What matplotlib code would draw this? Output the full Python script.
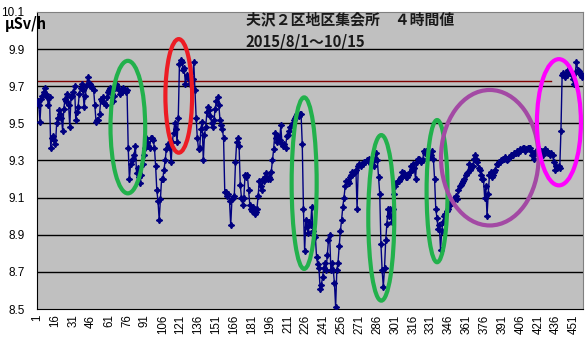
import matplotlib
matplotlib.use("Agg")
import matplotlib.pyplot as plt
from matplotlib.patches import Ellipse

# 4-hour dose-rate readings (uSv/h), 2015/8/1 - 10/15
dose = [
    9.62, 9.60, 9.51, 9.63, 9.65, 9.67, 9.69, 9.66, 9.64, 9.60,
    9.64, 9.37, 9.42, 9.43, 9.41, 9.39, 9.50, 9.53, 9.57, 9.55,
    9.53, 9.46, 9.58, 9.63, 9.62, 9.66, 9.60, 9.48, 9.64, 9.65,
    9.67, 9.70, 9.52, 9.56, 9.59, 9.66, 9.69, 9.71, 9.68, 9.59,
    9.65, 9.70, 9.75, 9.72, 9.71, 9.70, 9.69, 9.68, 9.60, 9.51,
    9.52, 9.52, 9.55, 9.63, 9.62, 9.64, 9.61, 9.60, 9.64, 9.67,
    9.68, 9.69, 9.66, 9.62, 9.65, 9.69, 9.71, 9.70, 9.68, 9.66,
    9.68, 9.67, 9.69, 9.68, 9.67, 9.68, 9.37, 9.20, 9.28, 9.30,
    9.31, 9.33, 9.38, 9.23, 9.26, 9.21, 9.18, 9.22, 9.28, 9.33,
    9.37, 9.42, 9.40, 9.38, 9.37, 9.42, 9.42, 9.41, 9.37, 9.27,
    9.14, 9.08, 8.98, 9.09, 9.20, 9.20, 9.25, 9.30, 9.36, 9.39,
    9.38, 9.37, 9.29, 9.40, 9.45, 9.50, 9.47, 9.40, 9.53, 9.82,
    9.84, 9.83, 9.79, 9.80, 9.71, 9.76, 9.75, 9.74, 9.71, 9.72,
    9.74, 9.83, 9.68, 9.53, 9.42, 9.36, 9.37, 9.47, 9.51, 9.30,
    9.44, 9.48, 9.56, 9.59, 9.57, 9.54, 9.50, 9.48, 9.52, 9.58,
    9.62, 9.64, 9.60, 9.52, 9.49, 9.47, 9.42, 9.13, 9.13, 9.11,
    9.12, 9.08, 8.95, 9.09, 9.10, 9.11, 9.29, 9.40, 9.42, 9.38,
    9.17, 9.10, 9.06, 9.10, 9.22, 9.21, 9.22, 9.14, 9.06, 9.04,
    9.03, 9.05, 9.01, 9.02, 9.04, 9.11, 9.19, 9.16, 9.14, 9.20,
    9.19, 9.21, 9.23, 9.20, 9.21, 9.20, 9.24, 9.30, 9.36, 9.45,
    9.42, 9.40, 9.43, 9.41, 9.49, 9.39, 9.38, 9.39, 9.37, 9.43,
    9.44, 9.46, 9.48, 9.49, 9.50, 9.52, 9.53, 9.54, 9.55, 9.54,
    9.55, 9.55, 9.39, 9.04, 8.81, 8.98, 8.94, 8.91, 8.97, 8.95,
    9.05, 8.92, 8.90, 8.89, 8.78, 8.74, 8.72, 8.61, 8.63, 8.67,
    8.72, 8.75, 8.71, 8.79, 8.87, 8.90, 8.71, 8.75, 8.71, 8.64,
    8.51, 8.71, 8.75, 8.84, 8.92, 8.98, 9.05, 9.10, 9.16, 9.19,
    9.19, 9.18, 9.21, 9.22, 9.24, 9.23, 9.24, 9.25, 9.04, 9.27,
    9.28, 9.27, 9.28, 9.28, 9.29, 9.29, 9.30, 9.30, 9.31, 9.29,
    9.28, 9.30, 9.27, 9.31, 9.34, 9.30, 9.21, 9.12, 8.85, 8.71,
    8.62, 8.72, 8.87, 8.96, 9.04, 9.00, 9.04, 8.97, 9.04, 9.12,
    9.16, 9.18, 9.19, 9.19, 9.20, 9.21, 9.24, 9.23, 9.22, 9.21,
    9.21, 9.22, 9.24, 9.27, 9.25, 9.28, 9.26, 9.20, 9.29, 9.31,
    9.31, 9.30, 9.29, 9.30, 9.35, 9.34, 9.35, 9.31, 9.32, 9.33,
    9.33, 9.35, 9.31, 9.20, 9.04, 8.99, 8.93, 8.95, 8.82, 8.92,
    8.97, 9.00, 9.01, 9.03, 9.04, 9.06, 9.06, 9.07, 9.08, 9.09,
    9.10, 9.11, 9.09, 9.14, 9.16, 9.17, 9.18, 9.19, 9.20, 9.22,
    9.23, 9.24, 9.28, 9.25, 9.27, 9.27, 9.31, 9.33, 9.31, 9.29,
    9.26, 9.25, 9.22, 9.20, 9.20, 9.10, 9.16, 9.00, 9.12, 9.22,
    9.24, 9.21, 9.22, 9.24, 9.25, 9.28, 9.28, 9.29, 9.29, 9.30,
    9.31, 9.31, 9.32, 9.31, 9.30, 9.31, 9.32, 9.33, 9.33, 9.33,
    9.34, 9.34, 9.35, 9.34, 9.35, 9.36, 9.36, 9.37, 9.37, 9.35,
    9.36, 9.37, 9.37, 9.37, 9.35, 9.33, 9.31, 9.34, 9.35, 9.34,
    9.33, 9.36, 9.35, 9.34, 9.33, 9.35, 9.36, 9.35, 9.34, 9.34,
    9.33, 9.34, 9.33, 9.29, 9.25, 9.27, 9.26, 9.27, 9.26, 9.46,
    9.76, 9.77, 9.75, 9.77, 9.76, 9.79, 9.79, 9.77, 9.76, 9.74,
    9.71, 9.77, 9.83, 9.79, 9.78, 9.77, 9.76, 9.75,
]
idx = list(range(1, len(dose) + 1))

# reference level (dark red line) and how far it runs
ref_level = 9.73
ref_points = 432

xtick_vals = list(range(1, 452, 15))
ytick_vals = [8.5, 8.7, 8.9, 9.1, 9.3, 9.5, 9.7, 9.9, 10.1]

title1 = "夫沢２区地区集会所　４時間値"
title2 = "2015/8/1～10/15"
unit = "μSv/h"

# hand-drawn highlight ellipses: (x centre, y centre, width, height, colour)
marks = [
    (76.7, 9.48, 29.1, 0.714, "#22B14C"),
    (119.4, 9.648, 22.4, 0.612, "#ED1C24"),
    (224.6, 9.178, 21.0, 0.924, "#22B14C"),
    (289.3, 8.991, 21.8, 0.892, "#22B14C"),
    (336.1, 9.135, 17.6, 0.766, "#22B14C"),
    (380.3, 9.315, 81.8, 0.730, "#A349A4"),
    (438.3, 9.506, 36.9, 0.680, "#FF00FF"),
]

jp = ["Noto Sans CJK JP", "DejaVu Sans"]

fig = plt.figure(figsize=(5.87, 3.44), dpi=100)
ax = fig.add_axes([37 / 587, 1 - 309 / 344, 546 / 587, 297 / 344])
ax.set_facecolor("#C0C0C0")

for v in ytick_vals[1:-1]:
    ax.axhline(v, color="black", lw=1.0, zorder=1)

ax.plot(idx[:ref_points], [ref_level] * ref_points, color="#800000", lw=1.0, zorder=2)
ax.plot(idx, dose, color="#000080", lw=1.0, marker=(4, 1, 0), ms=4.5,
        mec="#000080", mfc="#000080", zorder=3)

for xc, yc, w, h, c in marks:
    ax.add_patch(Ellipse((xc, yc), w, h, fill=False, ec=c, lw=3, zorder=4))

ax.set_xlim(0.5, 458.5)
ax.set_ylim(8.5, 10.1)
ax.set_xticks(xtick_vals)
ax.set_xticklabels([str(v) for v in xtick_vals], rotation=90,
                   fontsize=8.3, family="Liberation Sans")
ax.set_yticks(ytick_vals)
ax.set_yticklabels(["%.1f" % v for v in ytick_vals], fontsize=8.5,
                   family="Liberation Sans")
ax.tick_params(axis="both", length=0)
ax.tick_params(axis="y", pad=9)
ax.tick_params(axis="x", pad=4)

for s in ["left", "bottom"]:
    ax.spines[s].set_color("black")
for s in ["top", "right"]:
    ax.spines[s].set_color("#808080")

fig.text(246 / 587, 1 - 19.5 / 344, title1, fontsize=10.7, weight="bold",
         family=jp, va="center", ha="left", color="#1a1a1a")
fig.text(246 / 587, 1 - 41.5 / 344, title2, fontsize=10.7, weight="bold",
         family=jp, va="center", ha="left", color="#1a1a1a")
fig.text(5 / 587, 1 - 24 / 344, unit, fontsize=10.5, weight="bold",
         family=jp, va="center", ha="left")

fig.savefig("out.png", dpi=100)
